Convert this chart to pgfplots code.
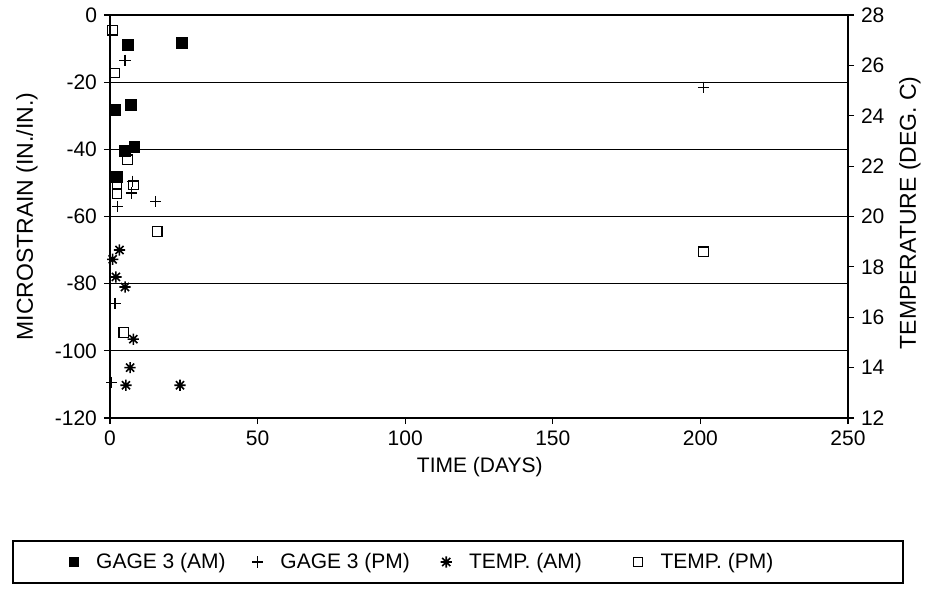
\documentclass[border=0pt]{standalone}
\usepackage{pgfplots}
\pgfplotsset{compat=1.18}
\usepackage{fontspec}
\setmainfont{Liberation Sans}
\pgfdeclareplotmark{ast8}{%
  \pgfpathmoveto{\pgfqpoint{-\pgfplotmarksize}{0pt}}\pgfpathlineto{\pgfqpoint{\pgfplotmarksize}{0pt}}%
  \pgfpathmoveto{\pgfqpoint{0pt}{-\pgfplotmarksize}}\pgfpathlineto{\pgfqpoint{0pt}{\pgfplotmarksize}}%
  \pgfpathmoveto{\pgfqpoint{-0.72\pgfplotmarksize}{-0.72\pgfplotmarksize}}\pgfpathlineto{\pgfqpoint{0.72\pgfplotmarksize}{0.72\pgfplotmarksize}}%
  \pgfpathmoveto{\pgfqpoint{-0.72\pgfplotmarksize}{0.72\pgfplotmarksize}}\pgfpathlineto{\pgfqpoint{0.72\pgfplotmarksize}{-0.72\pgfplotmarksize}}%
  \pgfusepathqstroke}
\begin{document}
\begin{tikzpicture}
\path[use as bounding box] (-55pt,-86.5pt) rectangle (408.5pt,209pt);
\begin{axis}[
  at={(0,0)}, anchor=south west,
  scale only axis, width=369pt, height=201.5pt,
  xmin=0, xmax=250, ymin=-120, ymax=0,
  xtick={0,50,...,250}, ytick={-120,-100,...,0},
  yticklabels={-120,-100,-80,-60,-40,-20,0},
  tick align=outside, major tick length=3pt,
  xtick pos=lower, ytick pos=left,
  ymajorgrids, grid style={black, line width=0.6pt},
  axis line style={line width=0.7pt},
  tick style={black, line width=0.6pt},
  ticklabel style={font=\fontsize{10.5}{12}\selectfont},
  /pgf/number format/assume math mode=true,
  xlabel={TIME (DAYS)}, ylabel={MICROSTRAIN (IN./IN.)},
  xlabel style={font=\fontsize{10.5}{12}\selectfont, at={(axis description cs:0.501,-0.1216)}, anchor=center},
  ylabel style={font=\fontsize{11.5}{13}\selectfont, at={(axis description cs:-0.1125,0.5)}, anchor=center},
]
\addplot[only marks, mark=square*, mark size=2.7pt, black] coordinates {
 (1.7,-28.3) (2.3,-48.3) (5.1,-40.4) (6.0,-9.0) (7.0,-26.8) (8.3,-39.2) (24.3,-8.4)
};
\addplot[only marks, mark=+, mark size=2.8pt, black, line width=0.6pt] coordinates {
 (0.6,-109.4) (1.7,-85.8) (2.5,-57.0) (5.1,-13.5) (7.6,-49.5) (7.3,-53.0) (15.5,-55.5) (201,-21.5)
};
\end{axis}
\begin{axis}[
  at={(0,0)}, anchor=south west,
  scale only axis, width=369pt, height=201.5pt,
  xmin=0, xmax=250, ymin=12, ymax=28,
  axis x line=none, axis y line*=right,
  ytick={12,14,...,28},
  tick align=outside, major tick length=3pt,
  axis line style={line width=0.7pt},
  tick style={black, line width=0.6pt},
  ticklabel style={font=\fontsize{10.5}{12}\selectfont},
  /pgf/number format/assume math mode=true,
  ylabel={TEMPERATURE (DEG. C)},
  ylabel style={font=\fontsize{11.5}{13}\selectfont, at={(axis description cs:1.084,0.509)}, anchor=center},
  legend columns=4,
  legend image code/.code={\path (0pt,0pt) (18pt,0pt); \draw[#1] plot coordinates {(9pt,0pt)};},
  legend style={at={(axis description cs:-0.0745,-0.3573)}, anchor=west, draw=none, fill=none,
    inner sep=0pt, font=\fontsize{10.5}{12}\selectfont,
    /tikz/column 2/.append style={column sep=4.75pt},
    /tikz/column 4/.append style={column sep=6.75pt},
    /tikz/column 6/.append style={column sep=16.75pt}},
]
\addlegendimage{only marks, mark=square*, mark size=2.2pt, black}
\addlegendentry{GAGE 3 (AM)}
\addlegendimage{only marks, mark=+, mark size=2.8pt, black, line width=0.6pt}
\addlegendentry{GAGE 3 (PM)}
\addplot[only marks, mark=ast8, mark size=2.8pt, black, line width=0.8pt] coordinates {
 (0.9,18.3) (2.0,17.6) (3.2,18.67) (5.1,17.2) (5.4,13.3) (6.8,14.0) (7.9,15.13) (23.7,13.3)
};
\addlegendentry{TEMP. (AM)}
\addplot[only marks, mark=square, mark size=2.4pt, black, line width=0.6pt] coordinates {
 (0.9,27.4) (1.7,25.7) (2.4,21.3) (2.4,20.9) (4.7,15.4) (5.9,22.25) (7.9,21.25) (16,19.4) (201,18.6)
};
\addlegendentry{TEMP. (PM)}
\end{axis}
\draw[line width=0.6pt] (-48.5pt,-61.5pt) rectangle (396.5pt,-82.5pt);
\end{tikzpicture}
\end{document}
